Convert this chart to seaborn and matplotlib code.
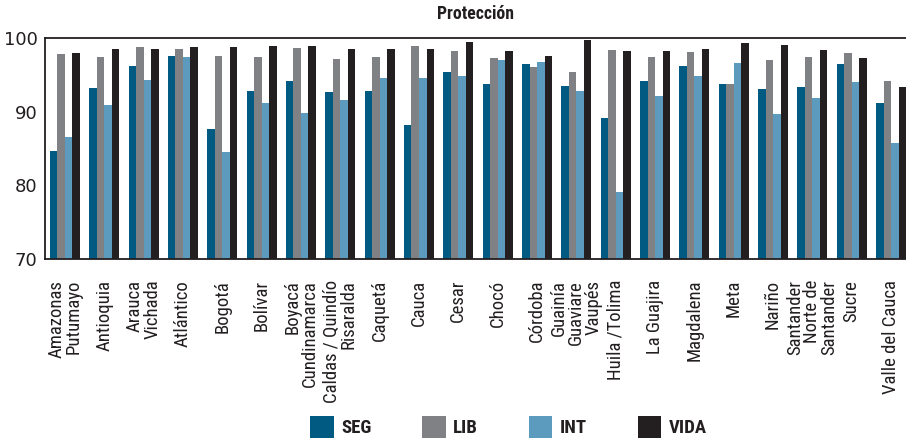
import matplotlib
matplotlib.use("Agg")
import matplotlib.pyplot as plt
from matplotlib import font_manager as fm
import seaborn as sns
import pandas as pd
from matplotlib.patches import Patch

regions = ["Amazonas\nPutumayo", "Antioquia", "Arauca\nVichada", "Atlántico", "Bogotá",
           "Bolívar", "Boyacá\nCundinamarca", "Caldas / Quindío\nRisaralda", "Caquetá",
           "Cauca", "Cesar", "Chocó", "Córdoba", "Guainía\nGuaviare\nVaupés",
           "Huila /Tolima", "La Guajira", "Magdalena", "Meta", "Nariño",
           "Santander\nNorte de\nSantander", "Sucre", "Valle del Cauca"]
series = ["SEG", "LIB", "INT", "VIDA"]
seg = [84.7, 93.2, 96.2, 97.6, 87.7, 92.8, 94.2, 92.7, 92.8, 88.2, 95.4,
       93.8, 96.5, 93.5, 89.2, 94.2, 96.2, 93.8, 93.1, 93.4, 96.5, 91.2]
lib = [97.9, 97.5, 98.8, 98.6, 97.6, 97.5, 98.7, 97.2, 97.5, 99.0, 98.3,
       97.3, 96.1, 95.4, 98.4, 97.5, 98.1, 93.8, 97.1, 97.5, 98.0, 94.2]
int_ = [86.6, 90.9, 94.3, 97.5, 84.5, 91.2, 89.9, 91.6, 94.6, 94.6, 94.9,
        97.1, 96.8, 92.8, 79.1, 92.2, 94.9, 96.6, 89.7, 91.9, 94.1, 85.8]
vida = [98.0, 98.6, 98.6, 98.8, 98.8, 99.0, 99.0, 98.6, 98.6, 98.6, 99.5,
        98.3, 97.6, 99.8, 98.3, 98.3, 98.6, 99.4, 99.1, 98.4, 97.3, 93.4]
yticks = [70, 80, 90, 100]

colors = ["#005a82", "#808185", "#5c9abe", "#231f20"]
dark = "#231f20"

# pick a condensed font if one is installed
ttf = fm.fontManager.ttflist
names = {f.name for f in ttf}
if "Roboto Condensed" in names:
    cfam, cstretch, scale = "Roboto Condensed", "normal", 1.0
elif "Liberation Sans Narrow" in names:
    cfam, cstretch, scale = "Liberation Sans Narrow", "normal", 1.0
elif any(f.name == "DejaVu Sans" and str(f.stretch) in ("condensed", "semi-condensed") for f in ttf):
    cfam, cstretch, scale = "DejaVu Sans", "condensed", 0.85
else:
    cfam, cstretch, scale = "DejaVu Sans", "normal", 0.75

sns.set_style("white")
plt.rcParams["font.family"] = ["DejaVu Sans"]
plt.rcParams["font.size"] = 13
plt.rcParams["text.color"] = dark
plt.rcParams["xtick.color"] = dark
plt.rcParams["ytick.color"] = dark

cfamily = [cfam, "DejaVu Sans"]

df = pd.DataFrame({
    "Región": regions * 4,
    "Índice": [s for s in series for _ in regions],
    "Valor": seg + lib + int_ + vida,
})

fig = plt.figure(figsize=(9.06, 4.41), dpi=100)
ax = fig.add_axes([44.5 / 906, 1 - 259 / 441, (906 - 44.5) / 906, (259 - 38.3) / 441])
sns.barplot(data=df, x="Región", y="Valor", hue="Índice", hue_order=series,
            palette=colors, width=0.763, saturation=1, linewidth=0,
            errorbar=None, legend=False, ax=ax)

ax.set_ylim(70, 100)
ax.set_xlim(-0.52, 21.38)
ax.set_yticks(yticks)
ax.set_xlabel("")
ax.set_ylabel("")
ax.tick_params(axis="y", direction="in", length=7, width=1.2, pad=5, labelsize=13)
ax.tick_params(axis="x", length=0, pad=15)
for lbl in ax.get_xticklabels():
    lbl.set_rotation(90)
    lbl.set_multialignment("right")
    lbl.set_linespacing(0.95)
    lbl.set_fontfamily(cfamily)
    lbl.set_fontstretch(cstretch)
    lbl.set_fontsize(13.5 * scale)

for side in ["left", "bottom", "top"]:
    ax.spines[side].set_visible(True)
    ax.spines[side].set_color(dark)
    ax.spines[side].set_linewidth(1.3)
ax.spines["right"].set_visible(False)

fig.text(475 / 906, 1 - 14 / 441, "Protección", ha="center", va="center",
         fontweight="bold", family=cfamily, stretch=cstretch, size=12.8 * scale)

handles = [Patch(facecolor=c, edgecolor="none", label=s) for c, s in zip(colors, series)]
fig.legend(handles=handles, loc="upper center", bbox_to_anchor=(508.5 / 906, 1 - 416 / 441),
           ncol=4, frameon=False, handlelength=1.25, handleheight=1.45,
           handletextpad=0.4, columnspacing=2.7, borderpad=0, borderaxespad=0,
           prop=fm.FontProperties(family=cfamily, stretch=cstretch,
                                  weight="bold", size=13.5 * scale))

fig.savefig("out.png", dpi=100)
